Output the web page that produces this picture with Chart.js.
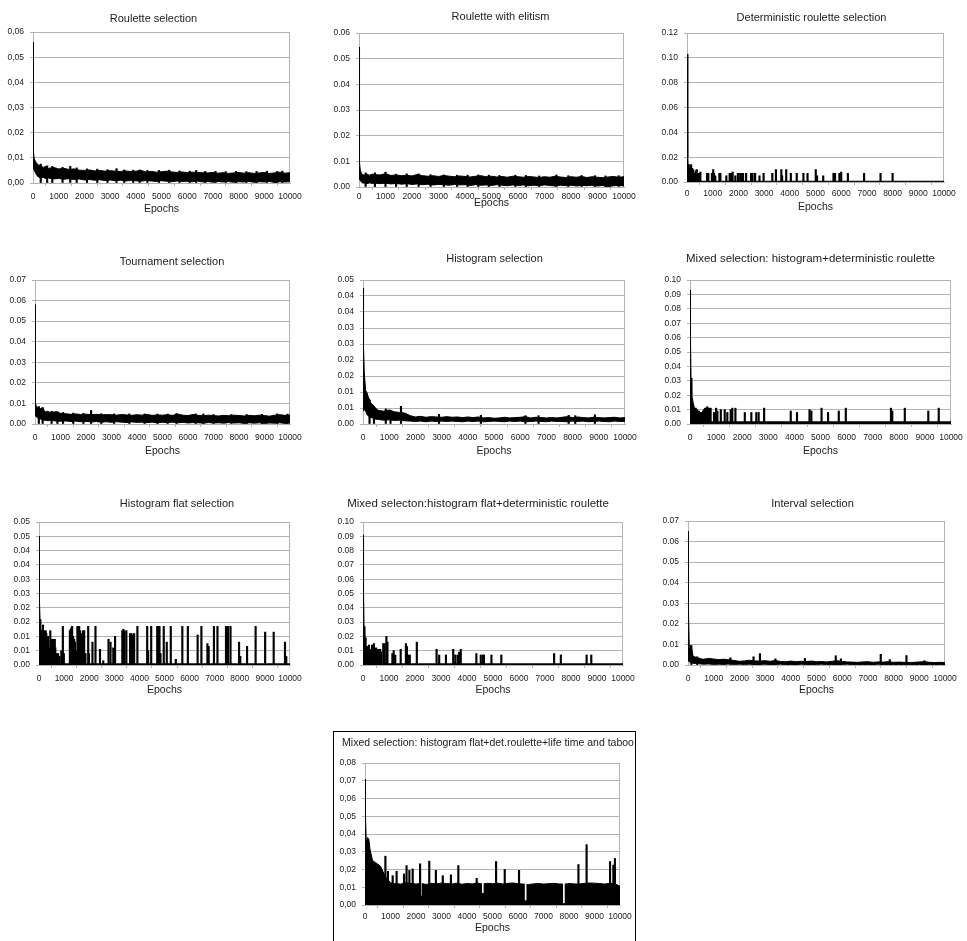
<!DOCTYPE html>
<html lang="en">
<head>
<meta charset="UTF-8">
<title>Selection methods: error by epoch</title>
<script src="https://cdn.jsdelivr.net/npm/chart.js@4"></script>
<style>
  body { margin: 0; background: #fff; width: 967px; height: 941px; position: relative; overflow: hidden; }
  canvas { position: absolute; }
  #box10 { position: absolute; left: 333px; top: 731px; width: 301px; height: 230px; border: 1px solid #000; }
</style>
</head>
<body>
<div id="box10"></div>
<script>
// shared x values for the noisy band charts (epochs)
const gridEpochs = [
  0, 20, 50, 100, 150, 200, 300, 400, 500, 600,
  800, 1000, 1200, 1400, 1600, 1800, 2000, 2200, 2400, 2600,
  2800, 3000, 3200, 3400, 3600, 3800, 4000, 4200, 4400, 4600,
  4800, 5000, 5200, 5400, 5600, 5800, 6000, 6200, 6400, 6600,
  6800, 7000, 7200, 7400, 7600, 7800, 8000, 8200, 8400, 8600,
  8800, 9000, 9200, 9400, 9600, 9800, 10000
];
const xTickValues = [0, 1000, 2000, 3000, 4000, 5000, 6000, 7000, 8000, 9000, 10000];
const xTickLabels = ['0', '1000', '2000', '3000', '4000', '5000', '6000', '7000', '8000', '9000', '10000'];

// y tick values / labels
const yTicks006 = [0, 0.01, 0.02, 0.03, 0.04, 0.05, 0.06];
const yLabelsComma006 = ['0,00', '0,01', '0,02', '0,03', '0,04', '0,05', '0,06'];
const yLabels006 = ['0.00', '0.01', '0.02', '0.03', '0.04', '0.05', '0.06'];
const yTicks012 = [0, 0.02, 0.04, 0.06, 0.08, 0.10, 0.12];
const yLabels012 = ['0.00', '0.02', '0.04', '0.06', '0.08', '0.10', '0.12'];
const yTicks007 = [0, 0.01, 0.02, 0.03, 0.04, 0.05, 0.06, 0.07];
const yLabels007 = ['0.00', '0.01', '0.02', '0.03', '0.04', '0.05', '0.06', '0.07'];
const yTicks0045 = [0, 0.005, 0.01, 0.015, 0.02, 0.025, 0.03, 0.035, 0.04, 0.045];
const yLabels0045 = ['0.00', '0.01', '0.01', '0.02', '0.02', '0.03', '0.03', '0.04', '0.04', '0.05'];
const yTicks010 = [0, 0.01, 0.02, 0.03, 0.04, 0.05, 0.06, 0.07, 0.08, 0.09, 0.10];
const yLabels010 = ['0.00', '0.01', '0.02', '0.03', '0.04', '0.05', '0.06', '0.07', '0.08', '0.09', '0.10'];
const yTicks005 = [0, 0.005, 0.01, 0.015, 0.02, 0.025, 0.03, 0.035, 0.04, 0.045, 0.05];
const yLabels005 = ['0.00', '0.01', '0.01', '0.02', '0.02', '0.03', '0.03', '0.04', '0.04', '0.05', '0.05'];
const yTicks008 = [0, 0.01, 0.02, 0.03, 0.04, 0.05, 0.06, 0.07, 0.08];
const yLabelsComma008 = ['0,00', '0,01', '0,02', '0,03', '0,04', '0,05', '0,06', '0,07', '0,08'];

// Roulette selection
const rouletteUpper = [
  0.056, 0.012, 0.0095, 0.0085, 0.0078, 0.0072, 0.0068, 0.0062, 0.0066, 0.0058,
  0.0062, 0.0056, 0.0058, 0.0054, 0.0056, 0.0051, 0.005, 0.0052, 0.0048, 0.005,
  0.0047, 0.0049, 0.0047, 0.0046, 0.0048, 0.0045, 0.0047, 0.005, 0.0044, 0.0046,
  0.0043, 0.0045, 0.0047, 0.0044, 0.0042, 0.0044, 0.0041, 0.0043, 0.0042, 0.0041,
  0.004, 0.0042, 0.0039, 0.0041, 0.0038, 0.004, 0.0042, 0.0039, 0.0041, 0.0038,
  0.004, 0.0042, 0.0038, 0.004, 0.0043, 0.0039, 0.0041
];
const rouletteLower = [
  0.006, 0.006, 0.005, 0.004, 0.003, 0.0025, 0.002, 0.0022, 0.0018, 0.002,
  0.0016, 0.0018, 0.0015, 0.0017, 0.0014, 0.0016, 0.0012, 0.0014, 0.0011, 0.0013,
  0.001, 0.0012, 0.0009, 0.0011, 0.0008, 0.001, 0.0009, 0.0007, 0.001, 0.0008,
  0.0006, 0.0009, 0.0007, 0.0005, 0.0008, 0.0006, 0.0007, 0.0005, 0.0008, 0.0004,
  0.0006, 0.0003, 0.0006, 0.0004, 0.0006, 0.0003, 0.0005, 0.0004, 0.0006, 0.0003,
  0.0005, 0.0004, 0.0006, 0.0002, 0.0005, 0.0004, 0.0005
];
const rouletteSpikeEpochs = [
  300, 550, 750, 1150, 1450, 1700, 2100, 2500, 2900, 3250, 3550, 3900, 4150, 4450, 4900, 5300,
  5700, 6100, 6350, 6700, 7100, 7500, 7900, 8300, 8700, 9100, 9500, 9700
];
const rouletteSpikeValues = [
  0.0075, 0.0068, 0.0066, 0.0062, 0.0066, 0.006, 0.0056, 0.0055, 0.0053, 0.0057, 0.0052, 0.0051, 0.0052, 0.005, 0.005, 0.0051,
  0.0048, 0.0047, 0.005, 0.0046, 0.0046, 0.0045, 0.0046, 0.0045, 0.0046, 0.0047, 0.0046, 0.0047
];

// Roulette with elitism
const elitismUpper = [
  0.0545, 0.0095, 0.0065, 0.0052, 0.0048, 0.0046, 0.005, 0.0046, 0.005, 0.0048,
  0.0047, 0.0052, 0.0045, 0.0047, 0.0044, 0.0046, 0.0043, 0.0049, 0.0044, 0.0042,
  0.0044, 0.0041, 0.0045, 0.0042, 0.004, 0.0043, 0.0041, 0.0039, 0.0042, 0.0044,
  0.004, 0.0042, 0.0039, 0.0041, 0.0038, 0.0042, 0.004, 0.0038, 0.0041, 0.0039,
  0.0037, 0.004, 0.0038, 0.0042, 0.0039, 0.0037, 0.004, 0.0038, 0.0041, 0.0037,
  0.004, 0.0038, 0.0036, 0.0039, 0.0041, 0.0038, 0.004
];
const elitismLower = [
  0.004, 0.003, 0.0025, 0.0018, 0.0015, 0.0016, 0.0013, 0.0016, 0.0014, 0.0015,
  0.0013, 0.0015, 0.0012, 0.0014, 0.0011, 0.0013, 0.001, 0.0012, 0.0009, 0.0011,
  0.0008, 0.001, 0.0009, 0.0007, 0.001, 0.0008, 0.0009, 0.0006, 0.0009, 0.0007,
  0.0008, 0.0006, 0.0009, 0.0007, 0.0005, 0.0008, 0.0006, 0.0008, 0.0005, 0.0007,
  0.0005, 0.0008, 0.0006, 0.0004, 0.0007, 0.0005, 0.0007, 0.0004, 0.0006, 0.0005,
  0.0007, 0.0004, 0.0006, 0.0001, 0.0005, 0.0006, 0.0004
];
const elitismSpikeEpochs = [
  250, 600, 1000, 1400, 1800, 2250, 2700, 3200, 3700, 4100, 4500, 4900, 5300, 5900, 6300, 6800,
  7450, 7900, 8400, 8900, 9300, 9800
];
const elitismSpikeValues = [
  0.0055, 0.0055, 0.0058, 0.005, 0.0051, 0.0051, 0.0048, 0.0047, 0.0046, 0.0046, 0.0047, 0.0046, 0.0045, 0.0046, 0.0045, 0.0043,
  0.0047, 0.0044, 0.0045, 0.0044, 0.0043, 0.0044
];

// Deterministic roulette selection
const detEpochs = [0, 30, 60, 100, 10000];
const detUpper = [0.103, 0.02, 0.008, 0.0006, 0.0006];
const detSpikeEpochs = [
  70, 110, 160, 200, 240, 270, 310, 340, 380, 420, 470, 520, 780, 830, 970, 1020, 1050, 1100,
  1260, 1300, 1530, 1660, 1710, 1775, 1880, 1980, 2070, 2120, 2180, 2300, 2490, 2550, 2650,
  2820, 2980, 3320, 3460, 3670, 3700, 3860, 4040, 4270, 4530, 4690, 5010, 5060, 5300, 5700,
  5760, 5930, 6000, 6260, 6890, 7530, 8000
];
const detSpikeValues = [
  0.014, 0.011, 0.014, 0.011, 0.01, 0.007, 0.006, 0.009, 0.01, 0.006, 0.007, 0.008, 0.007, 0.007, 0.007, 0.01, 0.007, 0.005,
  0.007, 0.007, 0.005, 0.007, 0.007, 0.008, 0.005, 0.007, 0.007, 0.007, 0.007, 0.007, 0.007, 0.007, 0.007,
  0.005, 0.007, 0.007, 0.01, 0.01, 0.005, 0.01, 0.007, 0.007, 0.007, 0.007, 0.01, 0.005, 0.005, 0.007,
  0.007, 0.007, 0.008, 0.007, 0.007, 0.007, 0.007
];

// Tournament selection
const tournamentUpper = [
  0.058, 0.0105, 0.0085, 0.0082, 0.0078, 0.0075, 0.0078, 0.0058, 0.0062, 0.0055,
  0.006, 0.0052, 0.005, 0.0047, 0.0049, 0.0046, 0.0048, 0.0045, 0.0047, 0.0044,
  0.0046, 0.0045, 0.0043, 0.0046, 0.0044, 0.0042, 0.0045, 0.0043, 0.0046, 0.0042,
  0.0044, 0.0043, 0.0045, 0.0042, 0.0048, 0.0043, 0.0041, 0.0046, 0.0042, 0.004,
  0.0043, 0.0041, 0.0039, 0.0042, 0.004, 0.0043, 0.0041, 0.0039, 0.0042, 0.004,
  0.0043, 0.0041, 0.0038, 0.0043, 0.0045, 0.0042, 0.0044
];
const tournamentLower = [
  0.006, 0.004, 0.0035, 0.003, 0.0028, 0.0025, 0.002, 0.0018, 0.0016, 0.0018,
  0.0015, 0.0013, 0.0015, 0.0012, 0.0014, 0.0011, 0.0013, 0.001, 0.0012, 0.0009,
  0.0011, 0.0008, 0.0011, 0.0009, 0.0007, 0.001, 0.0008, 0.0009, 0.0007, 0.0009,
  0.0006, 0.0008, 0.0007, 0.0009, 0.0006, 0.0008, 0.0005, 0.0007, 0.0006, 0.0004,
  0.0007, 0.0005, 0.0006, 0.0004, 0.0007, 0.0005, 0.0006, 0.0003, 0.0006, 0.0004,
  0.0006, 0.0003, 0.0005, 0.0004, 0.0006, 0.0003, 0.0005
];
const tournamentSpikeEpochs = [
  150, 300, 650, 880, 1100, 1500, 1900, 2200, 2600, 3100, 3700, 4300, 4800, 5200, 5550, 6300,
  6600, 7000, 7700, 8300, 8900, 9500, 9900
];
const tournamentSpikeValues = [
  0.0085, 0.008, 0.0062, 0.006, 0.0056, 0.0053, 0.0052, 0.0066, 0.005, 0.0049, 0.0049, 0.0049, 0.0048, 0.0048, 0.0051, 0.0049,
  0.0049, 0.0046, 0.0046, 0.0046, 0.0047, 0.0049, 0.0048
];

// Histogram selection
const histUpper = [
  0.0425, 0.024, 0.016, 0.0105, 0.0098, 0.0085, 0.0065, 0.0058, 0.0048, 0.0042,
  0.004, 0.0044, 0.0038, 0.0036, 0.0034, 0.0026, 0.0022, 0.0024, 0.0021, 0.0023,
  0.0022, 0.0021, 0.0023, 0.0021, 0.0022, 0.002, 0.0022, 0.002, 0.0022, 0.0019,
  0.002, 0.0018, 0.0019, 0.0021, 0.0019, 0.002, 0.0021, 0.0023, 0.0019, 0.0021,
  0.002, 0.0019, 0.002, 0.0019, 0.0021, 0.0023, 0.002, 0.0022, 0.002, 0.0019,
  0.0021, 0.002, 0.0019, 0.002, 0.0021, 0.0019, 0.002
];
const histLower = [
  0.004, 0.004, 0.0045, 0.004, 0.003, 0.0025, 0.002, 0.0018, 0.0015, 0.0014,
  0.0012, 0.0013, 0.0011, 0.0012, 0.001, 0.0009, 0.0008, 0.0009, 0.0007, 0.0009,
  0.0008, 0.0009, 0.0008, 0.0009, 0.0008, 0.0007, 0.0009, 0.0008, 0.0009, 0.0007,
  0.0008, 0.0009, 0.0008, 0.0007, 0.0009, 0.0008, 0.0009, 0.0007, 0.0008, 0.0009,
  0.0008, 0.0007, 0.0009, 0.0008, 0.0008, 0.0007, 0.0009, 0.0008, 0.0009, 0.0007,
  0.0008, 0.0009, 0.0008, 0.0007, 0.0009, 0.0008, 0.0008
];
const histSpikeEpochs = [250, 420, 870, 1050, 1450, 2900, 4500, 6200, 6700, 7850, 8100, 8850];
const histSpikeValues = [0.0075, 0.0046, 0.0047, 0.0043, 0.0055, 0.003, 0.0027, 0.0026, 0.0026, 0.0027, 0.0026, 0.0029];

// Mixed selection: histogram + deterministic roulette
const mixedEpochs = [0, 20, 40, 70, 120, 170, 250, 10000];
const mixedUpper = [0.093, 0.057, 0.032, 0.02, 0.015, 0.011, 0.0015, 0.0015];
const mixedSpikeEpochs = [
  180, 220, 260, 300, 340, 380, 420, 460, 500, 540, 580, 620, 660, 700, 740, 790,
  920, 1000, 1050, 1180, 1330, 1430, 1560, 1620, 1740, 2100, 2350, 2540, 2630, 2840,
  3860, 4100, 4580, 4650, 5040, 5290, 5700, 5970, 7700, 7750, 8230, 9130, 9530
];
const mixedSpikeValues = [
  0.011, 0.011, 0.01, 0.009, 0.009, 0.007, 0.008, 0.008, 0.009, 0.01, 0.011, 0.011, 0.012, 0.011, 0.011, 0.011,
  0.008, 0.011, 0.009, 0.01, 0.01, 0.008, 0.01, 0.011, 0.011, 0.008, 0.008, 0.008, 0.008, 0.011,
  0.009, 0.008, 0.01, 0.009, 0.011, 0.008, 0.009, 0.011, 0.011, 0.009, 0.011, 0.009, 0.011
];

// Histogram flat selection
const flatEpochs = [0, 20, 40, 70, 110, 10000];
const flatUpper = [0.045, 0.022, 0.016, 0.012, 0.0004, 0.0004];
const flatSpikeEpochs = [
  90, 130, 160, 200, 240, 270, 290, 320, 360, 400, 450, 480, 520, 560, 600, 630, 650, 700, 760, 820,
  890, 950, 990, 1230, 1260, 1290, 1320, 1360, 1400, 1430, 1480, 1530, 1570, 1600, 1640, 1690, 1730,
  1760, 1800, 1850, 1960, 1990, 2130, 2250, 2430, 2560, 2770, 2850, 2960, 3030, 3320, 3360, 3400,
  3480, 3630, 3680, 3730, 3790, 3920, 4310, 4350, 4470, 4710, 4760, 4800, 4840, 4970, 5090, 5250,
  5450, 5710, 5930, 6320, 6470, 6710, 6760, 6970, 7110, 7450, 7530, 7630, 7970, 8020, 8290, 8630,
  9010, 9350, 9800, 9850
];
const flatSpikeValues = [
  0.012, 0.0095, 0.014, 0.012, 0.007, 0.012, 0.011, 0.004, 0.01, 0.006, 0.012, 0.008, 0.009, 0.009, 0.007, 0.009, 0.006, 0.004, 0.004, 0.003,
  0.005, 0.0135, 0.004, 0.012, 0.0125, 0.013, 0.0135, 0.01, 0.009, 0.008, 0.005, 0.0135, 0.013, 0.0135, 0.012, 0.011, 0.0095,
  0.012, 0.012, 0.004, 0.0135, 0.004, 0.008, 0.0135, 0.0055, 0.0015, 0.009, 0.008, 0.006, 0.01, 0.012, 0.0125, 0.012,
  0.012, 0.011, 0.011, 0.0105, 0.011, 0.0135, 0.0135, 0.005, 0.0135, 0.0135, 0.0135, 0.0135, 0.004, 0.0135, 0.008, 0.0135,
  0.002, 0.0135, 0.0135, 0.0105, 0.0135, 0.0075, 0.0065, 0.0135, 0.0135, 0.0135, 0.0135, 0.0135, 0.008, 0.003, 0.0065, 0.0135,
  0.0115, 0.0115, 0.008, 0.003
];

// Mixed selecton: histogram flat + deterministic roulette
const flatDetEpochs = [0, 20, 40, 70, 110, 10000];
const flatDetUpper = [0.091, 0.052, 0.027, 0.019, 0.0008, 0.0008];
const flatDetSpikeEpochs = [
  100, 150, 190, 230, 270, 310, 350, 390, 420, 460, 500, 540, 580, 620, 660, 700, 780, 830, 900, 940,
  1130, 1180, 1240, 1450, 1650, 1690, 1730, 1800, 2070, 2830, 2930, 3190, 3470, 3550, 3640, 3700,
  3760, 4360, 4530, 4610, 4650, 4940, 5320, 7350, 7610, 8600, 8780
];
const flatDetSpikeValues = [
  0.019, 0.013, 0.012, 0.014, 0.011, 0.011, 0.014, 0.012, 0.015, 0.011, 0.012, 0.011, 0.011, 0.009, 0.011, 0.009, 0.015, 0.015, 0.02, 0.016,
  0.008, 0.01, 0.007, 0.011, 0.015, 0.013, 0.007, 0.007, 0.016, 0.011, 0.007, 0.007, 0.011, 0.007, 0.007, 0.009,
  0.011, 0.008, 0.007, 0.007, 0.007, 0.007, 0.007, 0.008, 0.007, 0.007, 0.007
];

// Interval selection
const intervalUpper = [
  0.065, 0.026, 0.008, 0.0095, 0.0075, 0.0042, 0.0038, 0.0035, 0.003, 0.0028,
  0.0032, 0.0029, 0.0026, 0.0028, 0.0025, 0.0022, 0.0018, 0.002, 0.0023, 0.002,
  0.0019, 0.0021, 0.0018, 0.0022, 0.0017, 0.0016, 0.0019, 0.0016, 0.0018, 0.0017,
  0.0019, 0.0016, 0.0017, 0.0015, 0.0018, 0.0021, 0.0017, 0.0015, 0.0014, 0.0013,
  0.0015, 0.0016, 0.0013, 0.0015, 0.0014, 0.0016, 0.0013, 0.0014, 0.0013, 0.0012,
  0.0013, 0.0015, 0.0016, 0.0013, 0.0012, 0.0013, 0.0012
];
const intervalLower = [
  0.003, 0.002, 0.0015, 0.0012, 0.001, 0.0008, 0.0007, 0.0006, 0.0005, 0.0004,
  0.0005, 0.0003, 0.0004, 0.0003, 0.0005, 0.0003, 0.0004, 0.0003, 0.0004, 0.0002,
  0.0003, 0.0004, 0.0002, 0.0003, 0.0004, 0.0002, 0.0003, 0.0002, 0.0004, 0.0003,
  0.0002, 0.0003, 0.0004, 0.0002, 0.0003, 0.0002, 0.0003, 0.0004, 0.0002, 0.0003,
  0.0002, 0.0003, 0.0002, 0.0004, 0.0002, 0.0003, 0.0002, 0.0003, 0.0002, 0.0003,
  0.0002, 0.0003, 0.0002, 0.0003, 0.0002, 0.0003, 0.0002
];
const intervalSpikeEpochs = [130, 350, 1650, 2550, 2800, 3400, 4550, 5750, 5950, 7500, 7850, 8500, 9200];
const intervalSpikeValues = [0.0095, 0.004, 0.0035, 0.004, 0.0055, 0.003, 0.0032, 0.0045, 0.003, 0.0052, 0.0026, 0.0046, 0.0021];

// Mixed selection: histogram flat + det. roulette + life time and taboo
const tabooUpper = [
  0.071, 0.05, 0.035, 0.038, 0.037, 0.031, 0.025, 0.024, 0.023, 0.022,
  0.016, 0.0125, 0.012, 0.0118, 0.0125, 0.0122, 0.0118, 0.0121, 0.0116, 0.0122,
  0.0119, 0.0124, 0.0121, 0.0118, 0.0123, 0.0117, 0.0121, 0.0119, 0.0124, 0.0118,
  0.0122, 0.012, 0.0123, 0.0119, 0.0122, 0.0124, 0.012, 0.0118, 0.0115, 0.0119,
  0.0121, 0.0118, 0.012, 0.0122, 0.0119, 0.0117, 0.0121, 0.0119, 0.0118, 0.0122,
  0.0124, 0.0123, 0.0121, 0.0118, 0.0122, 0.012, 0.0105
];
const tabooSpikeEpochs = [
  800, 900, 1085, 1240, 1530, 1630, 1740, 1870, 2160, 2520, 2780, 3050, 3370, 3660, 4380, 5140,
  5480, 6040, 8370, 8690, 9610, 9740, 9800
];
const tabooSpikeValues = [
  0.0275, 0.019, 0.0165, 0.019, 0.0175, 0.0222, 0.0195, 0.0203, 0.0232, 0.0247, 0.0195, 0.0165, 0.017, 0.0222, 0.015, 0.0245,
  0.02, 0.0195, 0.0228, 0.034, 0.0245, 0.0225, 0.0262
];
const tabooGapEpochs = [2190, 4620, 6300, 7800];
const tabooGapFloor = [0.0056, 0.007, 0.0028, 0.0012];
const tabooGapTop = [0.0125, 0.0125, 0.0125, 0.0125];

Chart.defaults.font.family = '"Liberation Sans", Arial, sans-serif';
Chart.defaults.color = '#222';

const GRID = '#b3b3b3';
const TICK_FONT = 8.5;

// right edge of the plot frame
const framePlugin = {
  id: 'frame',
  beforeDatasetsDraw(chart) {
    const { ctx, chartArea: a } = chart;
    const x = Math.round(a.right) - 0.5;
    ctx.save();
    ctx.strokeStyle = GRID;
    ctx.lineWidth = 1;
    ctx.beginPath();
    ctx.moveTo(x, a.top);
    ctx.lineTo(x, a.bottom);
    ctx.stroke();
    ctx.restore();
  }
};

function lineSet(xs, ys, fill, order) {
  return {
    type: 'line',
    data: xs.map((x, i) => ({ x: x, y: ys[i] })),
    borderColor: '#000',
    borderWidth: 1,
    backgroundColor: '#000',
    pointRadius: 0,
    tension: 0,
    fill: fill,
    order: order
  };
}

function drawPanel(p) {
  const [left, top, right, bottom] = p.plot;
  const plotW = right - left, plotH = bottom - top;
  const axisH = Math.round(p.epochsY - bottom + 6.3);
  const canvas = document.createElement('canvas');
  const canvasLeft = left - 40, canvasTop = top - 30;
  canvas.width = plotW + 60;
  canvas.height = 30 + plotH + axisH;
  canvas.style.left = canvasLeft + 'px';
  canvas.style.top = canvasTop + 'px';
  document.body.appendChild(canvas);

  const xPad = p.tickY - bottom - 3 - TICK_FONT * 0.6;

  // chart title, centred where the reference centres it
  const titlePlugin = {
    id: 'panelTitle',
    afterDraw(chart) {
      const ctx = chart.ctx;
      ctx.save();
      ctx.font = (p.titleSize || 11) + 'px "Liberation Sans", Arial, sans-serif';
      ctx.fillStyle = '#222';
      ctx.textAlign = 'center';
      ctx.textBaseline = 'middle';
      ctx.fillText(p.title, p.titleX - canvasLeft, p.titleY - canvasTop);
      ctx.restore();
    }
  };

  const sets = [];
  sets.push({
    type: 'bar',
    data: p.spikeX.map((x, i) => ({ x: x, y: p.spikeY[i] })),
    backgroundColor: '#000',
    barThickness: 1.5,
    stack: 'marks',
    order: 0
  });
  if (p.gapX) {
    sets.push({
      type: 'bar',
      data: p.gapX.map((x, i) => ({ x: x, y: [p.gapLo[i], p.gapHi[i]] })),
      backgroundColor: '#fff',
      barThickness: 1,
      stack: 'marks',
      order: 1
    });
  }
  let fillTarget = 'origin';
  if (p.lower) {
    fillTarget = sets.length;
    sets.push(lineSet(p.bandX, p.lower, false, 3));
  }
  sets.push(lineSet(p.bandX, p.upper, fillTarget, 2));

  new Chart(canvas, {
    type: 'line',
    data: { datasets: sets },
    options: {
      responsive: false,
      animation: false,
      devicePixelRatio: 1,
      events: [],
      layout: { padding: { left: 0, right: 20, top: 30, bottom: 0 } },
      plugins: {
        legend: { display: false },
        tooltip: { enabled: false },
        title: { display: false }
      },
      scales: {
        x: {
          type: 'linear',
          min: 0,
          max: 10000,
          offset: false,
          afterBuildTicks: s => { s.ticks = xTickValues.map(v => ({ value: v })); },
          afterFit: s => { s.height = axisH; },
          ticks: {
            autoSkip: false,
            maxRotation: 0,
            minRotation: 0,
            padding: xPad,
            font: { size: TICK_FONT },
            callback: (v, i) => xTickLabels[i]
          },
          grid: { drawOnChartArea: false, tickLength: 3, color: GRID },
          border: { color: GRID },
          title: { display: true, text: 'Epochs', font: { size: 10.5 }, padding: 0, color: '#222' }
        },
        y: {
          type: 'linear',
          min: 0,
          max: p.yTicks[p.yTicks.length - 1],
          stacked: false,
          afterBuildTicks: s => { s.ticks = p.yTicks.map(v => ({ value: v })); },
          afterFit: s => { s.width = 40; },
          ticks: {
            autoSkip: false,
            padding: 6,
            font: { size: TICK_FONT },
            callback: (v, i) => p.yLabels[i]
          },
          grid: { tickLength: 3, color: GRID },
          border: { color: GRID }
        }
      }
    },
    plugins: [framePlugin, titlePlugin]
  });
}

const panels = [
  { title: 'Roulette selection', plot: [33, 32, 290, 183], titleX: 153.5, titleY: 19, tickY: 196.5, epochsY: 209,
    yTicks: yTicks006, yLabels: yLabelsComma006, bandX: gridEpochs, upper: rouletteUpper, lower: rouletteLower,
    spikeX: rouletteSpikeEpochs, spikeY: rouletteSpikeValues },
  { title: 'Roulette with elitism', plot: [359, 33, 624, 187], titleX: 500.5, titleY: 17, tickY: 197, epochsY: 203,
    yTicks: yTicks006, yLabels: yLabels006, bandX: gridEpochs, upper: elitismUpper, lower: elitismLower,
    spikeX: elitismSpikeEpochs, spikeY: elitismSpikeValues },
  { title: 'Deterministic roulette selection', plot: [687, 33, 944, 182], titleX: 811.5, titleY: 18, tickY: 194, epochsY: 207,
    yTicks: yTicks012, yLabels: yLabels012, bandX: detEpochs, upper: detUpper,
    spikeX: detSpikeEpochs, spikeY: detSpikeValues },
  { title: 'Tournament selection', plot: [35, 280, 290, 424], titleX: 172, titleY: 262, tickY: 437.5, epochsY: 450.5,
    yTicks: yTicks007, yLabels: yLabels007, bandX: gridEpochs, upper: tournamentUpper, lower: tournamentLower,
    spikeX: tournamentSpikeEpochs, spikeY: tournamentSpikeValues },
  { title: 'Histogram selection', plot: [363, 280, 625, 424], titleX: 494.5, titleY: 259, tickY: 437.5, epochsY: 450.5,
    yTicks: yTicks0045, yLabels: yLabels0045, bandX: gridEpochs, upper: histUpper, lower: histLower,
    spikeX: histSpikeEpochs, spikeY: histSpikeValues },
  { title: 'Mixed selection: histogram+deterministic roulette', plot: [690, 280, 951, 424], titleX: 810.5, titleY: 259, tickY: 437.5, epochsY: 450.5,
    titleSize: 11.5,
    yTicks: yTicks010, yLabels: yLabels010, bandX: mixedEpochs, upper: mixedUpper,
    spikeX: mixedSpikeEpochs, spikeY: mixedSpikeValues },
  { title: 'Histogram flat selection', plot: [39, 522, 290, 665], titleX: 177, titleY: 504, tickY: 679, epochsY: 690,
    yTicks: yTicks005, yLabels: yLabels005, bandX: flatEpochs, upper: flatUpper,
    spikeX: flatSpikeEpochs, spikeY: flatSpikeValues },
  { title: 'Mixed selecton:histogram flat+deterministic roulette', plot: [363, 522, 623, 665], titleX: 478, titleY: 504, tickY: 679, epochsY: 690,
    titleSize: 11.5,
    yTicks: yTicks010, yLabels: yLabels010, bandX: flatDetEpochs, upper: flatDetUpper,
    spikeX: flatDetSpikeEpochs, spikeY: flatDetSpikeValues },
  { title: 'Interval selection', plot: [688, 521, 945, 665], titleX: 812.5, titleY: 504, tickY: 679, epochsY: 690,
    yTicks: yTicks007, yLabels: yLabels007, bandX: gridEpochs, upper: intervalUpper, lower: intervalLower,
    spikeX: intervalSpikeEpochs, spikeY: intervalSpikeValues },
  { title: 'Mixed selection: histogram flat+det.roulette+life time and taboo', plot: [365, 763, 620, 905], titleX: 488, titleY: 743, tickY: 917, epochsY: 928,
    titleSize: 10.5,
    yTicks: yTicks008, yLabels: yLabelsComma008, bandX: gridEpochs, upper: tabooUpper,
    spikeX: tabooSpikeEpochs, spikeY: tabooSpikeValues,
    gapX: tabooGapEpochs, gapLo: tabooGapFloor, gapHi: tabooGapTop }
];

panels.forEach(drawPanel);
</script>
</body>
</html>
